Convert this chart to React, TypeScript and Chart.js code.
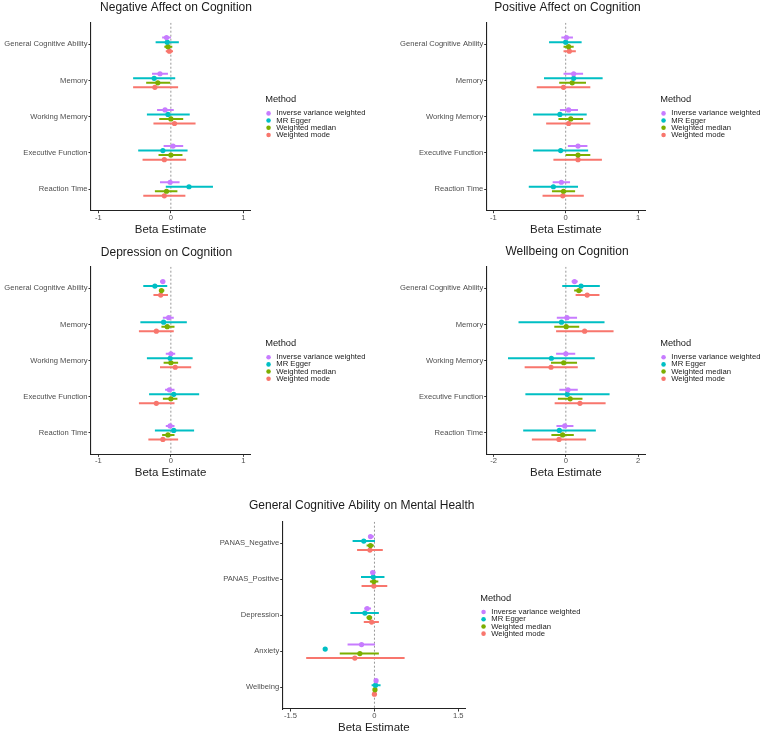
import React, { useEffect, useRef } from 'react';
import { Chart, registerables } from 'chart.js';

Chart.register(...registerables);

// ---------------- DATA ----------------
const methods = ['Inverse variance weighted', 'MR Egger', 'Weighted median', 'Weighted mode'];
const cognitionCats = ['General Cognitive Ability', 'Memory', 'Working Memory', 'Executive Function', 'Reaction Time'];
const mentalCats = ['PANAS_Negative', 'PANAS_Positive', 'Depression', 'Anxiety', 'Wellbeing'];

const ticksUnit = [-1, 0, 1];
const ticksTwo = [-2, 0, 2];
const ticksOneHalf = [-1.5, 0, 1.5];

// rows: IVW, MR Egger, Weighted median, Weighted mode; columns: categories
const negAffectEst = [
  [-0.06, -0.15, -0.08, 0.03, -0.01],
  [-0.05, -0.23, -0.04, -0.11, 0.25],
  [-0.04, -0.18, 0.0, 0.0, -0.06],
  [-0.02, -0.22, 0.05, -0.09, -0.09],
];
const negAffectLo = [
  [-0.12, -0.26, -0.19, -0.1, -0.15],
  [-0.21, -0.52, -0.33, -0.45, -0.07],
  [-0.09, -0.34, -0.16, -0.17, -0.22],
  [-0.07, -0.52, -0.24, -0.39, -0.38],
];
const negAffectHi = [
  [0.0, -0.04, 0.04, 0.17, 0.12],
  [0.11, 0.06, 0.26, 0.23, 0.58],
  [0.02, -0.01, 0.17, 0.16, 0.09],
  [0.03, 0.1, 0.34, 0.21, 0.2],
];

const posAffectEst = [
  [0.01, 0.11, 0.04, 0.17, -0.06],
  [0.0, 0.11, -0.08, -0.07, -0.17],
  [0.04, 0.09, 0.07, 0.17, -0.03],
  [0.05, -0.03, 0.04, 0.17, -0.04],
];
const posAffectLo = [
  [-0.06, -0.03, -0.08, 0.03, -0.18],
  [-0.23, -0.3, -0.45, -0.45, -0.51],
  [-0.03, -0.09, -0.1, 0.0, -0.19],
  [-0.03, -0.4, -0.27, -0.17, -0.32],
];
const posAffectHi = [
  [0.1, 0.24, 0.17, 0.3, 0.06],
  [0.22, 0.51, 0.29, 0.31, 0.17],
  [0.11, 0.28, 0.24, 0.34, 0.13],
  [0.14, 0.34, 0.34, 0.5, 0.25],
];

const depressionEst = [
  [-0.11, -0.03, 0.0, -0.02, -0.01],
  [-0.22, -0.1, -0.01, 0.04, 0.04],
  [-0.13, -0.05, 0.0, 0.0, -0.04],
  [-0.14, -0.2, 0.06, -0.2, -0.11],
];
const depressionLo = [
  [-0.15, -0.11, -0.07, -0.08, -0.07],
  [-0.38, -0.42, -0.33, -0.3, -0.22],
  [-0.16, -0.13, -0.1, -0.11, -0.12],
  [-0.24, -0.44, -0.15, -0.44, -0.31],
];
const depressionHi = [
  [-0.08, 0.04, 0.06, 0.05, 0.05],
  [-0.05, 0.22, 0.3, 0.39, 0.32],
  [-0.09, 0.05, 0.1, 0.09, 0.05],
  [-0.04, 0.04, 0.28, 0.05, 0.1],
];

const wellbeingEst = [
  [0.24, 0.03, 0.0, 0.06, -0.03],
  [0.42, -0.12, -0.4, 0.04, -0.18],
  [0.36, 0.01, -0.06, 0.12, -0.09],
  [0.59, 0.52, -0.41, 0.39, -0.19],
];
const wellbeingLo = [
  [0.16, -0.25, -0.27, -0.18, -0.26],
  [-0.1, -1.31, -1.6, -1.12, -1.18],
  [0.23, -0.32, -0.41, -0.22, -0.4],
  [0.27, -0.27, -1.14, -0.31, -0.94],
];
const wellbeingHi = [
  [0.33, 0.31, 0.26, 0.33, 0.21],
  [0.94, 1.07, 0.8, 1.21, 0.83],
  [0.46, 0.37, 0.31, 0.46, 0.22],
  [0.93, 1.32, 0.33, 1.1, 0.56],
];

const gcaMentalEst = [
  [-0.07, -0.03, -0.13, -0.23, 0.03],
  [-0.19, -0.02, -0.17, -0.88, 0.02],
  [-0.07, -0.01, -0.09, -0.26, 0.01],
  [-0.08, -0.01, -0.05, -0.35, 0.0],
];
const gcaMentalLo = [
  [-0.11, -0.07, -0.18, -0.48, 0.01],
  [-0.39, -0.24, -0.43, null, -0.05],
  [-0.14, -0.08, -0.14, -0.62, -0.01],
  [-0.31, -0.23, -0.19, -1.22, -0.03],
];
const gcaMentalHi = [
  [-0.01, 0.02, -0.06, 0.01, 0.05],
  [0.01, 0.18, 0.08, null, 0.11],
  [-0.01, 0.07, -0.04, 0.08, 0.04],
  [0.15, 0.23, 0.08, 0.54, 0.03],
];

// ---------------- STYLE / LAYOUT ----------------
const FONT = "'Liberation Sans', Arial, Helvetica, sans-serif";
const COLORS = ['#C77CFF', '#00BFC4', '#7CAE00', '#F8766D'];
const DODGE = [-0.1875, -0.0625, 0.0625, 0.1875];
const TITLE_SIZE = 12;
const AXIS_TITLE_SIZE = 11.5;
const TICK_SIZE = 7.6;
const LEG_SIZE = 7.7;
const LEG_TITLE_SIZE = 9.3;
const SPACER = 15.2;
const LEFT_SHIFT = 70;

type Spec = {
  key: string;
  title: string;
  cats: string[];
  est: number[][];
  lo: (number | null)[][];
  hi: (number | null)[][];
  xTicks: number[];
  xMin: number;
  xMax: number;
  area: { l: number; r: number; t: number; b: number };
  titleX: number;
  titleY: number;
};

const PANELS: Spec[] = [
  {
    key: 'p1', title: 'Negative Affect on Cognition', cats: cognitionCats,
    est: negAffectEst, lo: negAffectLo, hi: negAffectHi,
    xTicks: ticksUnit, xMin: -1.1, xMax: 1.09,
    area: { l: 91, r: 250, t: 22.7, b: 210.7 }, titleX: 176, titleY: 8,
  },
  {
    key: 'p2', title: 'Positive Affect on Cognition', cats: cognitionCats,
    est: posAffectEst, lo: posAffectLo, hi: posAffectHi,
    xTicks: ticksUnit, xMin: -1.091, xMax: 1.095,
    area: { l: 486.7, r: 645, t: 22.7, b: 210.7 }, titleX: 567.5, titleY: 8,
  },
  {
    key: 'p3', title: 'Depression on Cognition', cats: cognitionCats,
    est: depressionEst, lo: depressionLo, hi: depressionHi,
    xTicks: ticksUnit, xMin: -1.1, xMax: 1.09,
    area: { l: 91, r: 250, t: 266.7, b: 454.3 }, titleX: 166.5, titleY: 252.5,
  },
  {
    key: 'p4', title: 'Wellbeing on Cognition', cats: cognitionCats,
    est: wellbeingEst, lo: wellbeingLo, hi: wellbeingHi,
    xTicks: ticksTwo, xMin: -2.19, xMax: 2.19,
    area: { l: 486.7, r: 645, t: 266.7, b: 454.3 }, titleX: 567, titleY: 251.5,
  },
  {
    key: 'p5', title: 'General Cognitive Ability on Mental Health', cats: mentalCats,
    est: gcaMentalEst, lo: gcaMentalLo, hi: gcaMentalHi,
    xTicks: ticksOneHalf, xMin: -1.64, xMax: 1.62,
    area: { l: 282.7, r: 465, t: 521.7, b: 709 }, titleX: 361.7, titleY: 505.5,
  },
];

let legendTextWidthCache = 0;
function legendTextWidth(): number {
  if (legendTextWidthCache) return legendTextWidthCache;
  const c = document.createElement('canvas');
  const ctx = c.getContext('2d') as CanvasRenderingContext2D;
  ctx.font = `${LEG_SIZE}px ${FONT}`;
  legendTextWidthCache = Math.max(...methods.map((m) => ctx.measureText(m).width));
  return legendTextWidthCache;
}

function Panel({ spec }: { spec: Spec }) {
  const ref = useRef<HTMLCanvasElement>(null);
  const { area } = spec;
  const cl = Math.floor(area.l - 91 - LEFT_SHIFT);
  const ct = Math.floor(area.t - 25);
  const titleBoxH = area.t - ct;
  const tLH = TITLE_SIZE * 1.2;
  const pt = spec.titleY - ct - tLH / 2;
  const pb = titleBoxH - tLH - pt;
  const H = Math.ceil(area.b + 28 - ct);
  const xAxisH = ct + H - area.b;
  const axLH = AXIS_TITLE_SIZE * 1.2;
  const tpb = xAxisH - 19 - axLH / 2;
  const legendLeftRel = area.r - cl + SPACER;
  const legendW = legendTextWidth() + 12.5;
  const legendRightRel = legendLeftRel + legendW;
  const W = Math.ceil(legendRightRel);
  const padR = W - legendRightRel;
  const tcRel = spec.titleX - cl;
  const padL = Math.max(0, 2 * tcRel - legendRightRel);
  const yAxisW = area.l - cl - padL;

  useEffect(() => {
    const { cats, est, lo, hi } = spec;
    const pointSets = methods.map((m, k) => ({
      type: 'scatter' as const,
      label: m,
      data: cats.map((_, i) => ({ x: est[k][i], y: i + 1 + DODGE[k] })),
      backgroundColor: COLORS[k],
      borderColor: COLORS[k],
      borderWidth: 0,
      pointRadius: 2.6,
      pointHoverRadius: 2.6,
      pointStyle: 'circle' as const,
      order: 0,
    }));
    const barSets = methods.map((m, k) => ({
      type: 'scatter' as const,
      label: m + ' CI',
      showLine: true,
      spanGaps: false,
      data: cats.flatMap((_, i) => {
        const y = i + 1 + DODGE[k];
        const a = lo[k][i];
        const b = hi[k][i];
        return [
          { x: a === null ? NaN : a, y },
          { x: b === null ? NaN : b, y },
          { x: NaN, y: NaN },
        ];
      }),
      borderColor: COLORS[k],
      backgroundColor: COLORS[k],
      borderWidth: 2,
      pointRadius: 0,
      pointHoverRadius: 0,
      order: 1,
    }));
    const zeroSet = {
      type: 'scatter' as const,
      label: 'zero',
      showLine: true,
      data: [{ x: 0, y: 0.4 }, { x: 0, y: 5.6 }],
      borderColor: '#8c8c8c',
      borderWidth: 0.9,
      borderDash: [2, 2],
      pointRadius: 0,
      pointHoverRadius: 0,
      order: 2,
    };

    const chart = new Chart(ref.current as HTMLCanvasElement, {
      type: 'scatter',
      data: { datasets: [...pointSets, ...barSets, zeroSet] as any },
      options: {
        responsive: false,
        animation: false,
        events: [],
        layout: { padding: { left: padL, top: 0, bottom: 0, right: padR } },
        scales: {
          x: {
            type: 'linear',
            position: 'bottom',
            min: spec.xMin,
            max: spec.xMax,
            afterBuildTicks: (s: any) => {
              s.ticks = spec.xTicks.map((v) => ({ value: v }));
            },
            afterFit: (s: any) => {
              s.height = xAxisH;
            },
            ticks: {
              autoSkip: false,
              maxRotation: 0,
              padding: 0,
              color: '#4d4d4d',
              font: { family: FONT, size: TICK_SIZE },
              callback: (v: any) => String(v),
            },
            grid: { display: true, drawOnChartArea: false, drawTicks: true, tickLength: 2.5, color: '#333', lineWidth: 1 },
            border: { display: true, color: '#222', width: 1.1 },
            title: {
              display: true,
              text: 'Beta Estimate',
              color: '#222',
              font: { family: FONT, size: AXIS_TITLE_SIZE },
              padding: { top: 0, bottom: tpb },
            },
          },
          y: {
            type: 'linear',
            position: 'left',
            reverse: true,
            min: 0.4,
            max: 5.6,
            afterBuildTicks: (s: any) => {
              s.ticks = cats.map((_, i) => ({ value: i + 1 }));
            },
            afterFit: (s: any) => {
              s.width = yAxisW;
            },
            ticks: {
              autoSkip: false,
              padding: 1,
              color: '#4d4d4d',
              font: { family: FONT, size: TICK_SIZE },
              callback: (v: any) => cats[Math.round(Number(v)) - 1],
            },
            grid: { display: true, drawOnChartArea: false, drawTicks: true, tickLength: 2.5, color: '#333', lineWidth: 1 },
            border: { display: true, color: '#222', width: 1.1 },
          },
          sp: {
            type: 'linear',
            position: 'right',
            display: true,
            afterFit: (s: any) => {
              s.width = SPACER;
            },
            ticks: { display: false },
            grid: { display: false, drawTicks: false },
            border: { display: false },
          },
        },
        plugins: {
          tooltip: { enabled: false },
          title: {
            display: true,
            text: spec.title,
            color: '#1a1a1a',
            font: { family: FONT, size: TITLE_SIZE, weight: 'normal' },
            padding: { top: pt, bottom: pb },
          },
          legend: {
            display: true,
            position: 'right',
            align: 'center',
            fullSize: false,
            maxWidth: legendW,
            title: {
              display: true,
              text: 'Method',
              position: 'start',
              color: '#1a1a1a',
              font: { family: FONT, size: LEG_TITLE_SIZE },
              padding: { top: 0, bottom: 3.8 },
            },
            labels: {
              usePointStyle: true,
              pointStyle: 'circle',
              boxWidth: LEG_SIZE,
              boxHeight: 3.2,
              padding: -0.5,
              color: '#1a1a1a',
              textAlign: 'left',
              font: { family: FONT, size: LEG_SIZE },
              filter: (item: any) => item.datasetIndex < 4,
            },
          },
        },
      } as any,
    });
    return () => chart.destroy();
  }, []);

  return (
    <canvas
      ref={ref}
      width={W}
      height={H}
      style={{ position: 'absolute', left: cl, top: ct, width: W, height: H }}
    />
  );
}

export default function App() {
  return (
    <div
      style={{
        position: 'absolute',
        left: 0,
        top: 0,
        width: 763,
        height: 733,
        overflow: 'hidden',
        background: '#ffffff',
      }}
    >
      {PANELS.map((p) => (
        <Panel key={p.key} spec={p} />
      ))}
    </div>
  );
}
